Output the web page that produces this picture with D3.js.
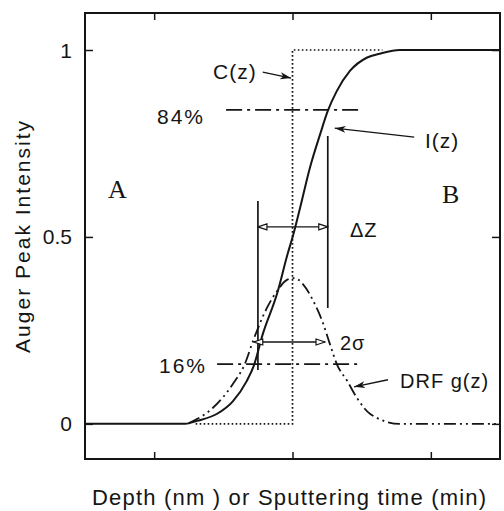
<!DOCTYPE html>
<html>
<head>
<meta charset="utf-8">
<script src="https://cdn.jsdelivr.net/npm/d3@7"></script>
<style>
body { margin: 0; background: #fff; }
text { font-family: Arial, "Liberation Sans", sans-serif; fill: #151515; }
</style>
</head>
<body>
<div class="grp"></div>
<script>
// I(z) measured profile
var iDepth = [0, 1.45, 1.62, 1.91, 2.14, 2.34, 2.44, 2.57, 2.78, 2.93, 3.01, 3.11, 3.25, 3.40, 3.51, 3.64, 3.83, 4.08, 4.26, 4.55, 6];
var iValue = [0, 0, 0.008, 0.027, 0.061, 0.115, 0.155, 0.24, 0.35, 0.455, 0.505, 0.578, 0.684, 0.775, 0.837, 0.89, 0.944, 0.98, 0.99, 1.0, 1.0];

// DRF g(z)
var gDepth = [1.5, 1.85, 2.14, 2.31, 2.43, 2.63, 2.78, 2.92, 3.03, 3.15, 3.30, 3.43, 3.54, 3.64, 3.79, 3.93, 4.12, 4.55, 6];
var gValue = [0.002, 0.043, 0.107, 0.16, 0.222, 0.31, 0.356, 0.385, 0.39, 0.374, 0.329, 0.275, 0.214, 0.16, 0.115, 0.07, 0.027, 0, 0];

// C(z) step
var cDepth = [1.6, 3.0, 3.0, 4.3];
var cValue = [0, 0, 1, 1];

var yTicks = [0, 0.5, 1];
var yTickLabels = ["0", "0.5", "1"];
var xTicks = [1, 3, 5];

var levels = [0.84, 0.16];
var levelLabels = ["84%", "16%"];

var width = 504, height = 511;
var margin = {left: 85, right: 4, top: 13, bottom: 52};

var x = d3.scaleLinear().domain([0, 6]).range([margin.left, width - margin.right]);
var y = d3.scaleLinear().domain([-0.094, 1.099]).range([height - margin.bottom, margin.top]);

var svg = d3.select(".grp").append("svg")
    .attr("width", width)
    .attr("height", height);

var defs = svg.append("defs");
defs.append("marker")
    .attr("id", "head")
    .attr("markerUnits", "userSpaceOnUse")
    .attr("markerWidth", 12).attr("markerHeight", 8)
    .attr("refX", 11).attr("refY", 4)
    .attr("orient", "auto")
    .append("path")
    .attr("d", "M0,0.5 L11,4 L0,7.5 L3,4 Z")
    .attr("fill", "#151515");
defs.append("marker")
    .attr("id", "open")
    .attr("markerUnits", "userSpaceOnUse")
    .attr("markerWidth", 11).attr("markerHeight", 8)
    .attr("refX", 10).attr("refY", 4)
    .attr("orient", "auto-start-reverse")
    .append("path")
    .attr("d", "M1,1 L10,4 L1,7 Z")
    .attr("fill", "#fff")
    .attr("stroke", "#151515")
    .attr("stroke-width", 1.2);

// frame
svg.append("rect")
    .attr("x", x(0)).attr("y", y(1.099))
    .attr("width", x(6) - x(0)).attr("height", y(-0.094) - y(1.099))
    .attr("fill", "none").attr("stroke", "#151515").attr("stroke-width", 2);

var axisL = d3.axisLeft(y).tickValues(yTicks).tickSize(-8).tickFormat("");
var axisR = d3.axisRight(y).tickValues(yTicks).tickSize(-8).tickFormat("");
var axisT = d3.axisTop(x).tickValues(xTicks).tickSize(-7).tickFormat("");
var axisB = d3.axisBottom(x).tickValues(xTicks).tickSize(-7).tickFormat("");
[[axisL, "translate(" + x(0) + ",0)"], [axisR, "translate(" + x(6) + ",0)"],
 [axisT, "translate(0," + y(1.099) + ")"], [axisB, "translate(0," + y(-0.094) + ")"]].forEach(function (a) {
    var g = svg.append("g").attr("transform", a[1]).call(a[0]);
    g.select(".domain").remove();
    g.selectAll("line").attr("stroke", "#151515").attr("stroke-width", 1.5);
});

svg.selectAll(".ylab").data(yTicks).enter().append("text")
    .attr("class", "ylab")
    .attr("x", 72).attr("y", function (d) { return y(d); })
    .attr("dy", "0.36em")
    .attr("text-anchor", "end")
    .attr("font-size", 21)
    .text(function (d, i) { return yTickLabels[i]; });

svg.append("text")
    .attr("transform", "translate(30," + y(0.5) + ") rotate(-90)")
    .attr("text-anchor", "middle")
    .attr("font-size", 21)
    .attr("textLength", 232).attr("lengthAdjust", "spacing")
    .text("Auger Peak Intensity");

svg.append("text")
    .attr("x", 92).attr("y", 505)
    .attr("font-size", 22)
    .attr("textLength", 394).attr("lengthAdjust", "spacing")
    .text("Depth (nm ) or Sputtering time (min)");

var line = d3.line()
    .x(function (d) { return x(d[0]); })
    .y(function (d) { return y(d[1]); });

// C(z) dotted
svg.append("path")
    .datum(d3.zip(cDepth, cValue))
    .attr("d", line.curve(d3.curveLinear))
    .attr("fill", "none").attr("stroke", "#151515")
    .attr("stroke-width", 1.7).attr("stroke-dasharray", "1.6,2.4");

// DRF dash-dot-dot
svg.append("path")
    .datum(d3.zip(gDepth, gValue))
    .attr("d", line.curve(d3.curveMonotoneX))
    .attr("fill", "none").attr("stroke", "#151515")
    .attr("stroke-width", 1.8).attr("stroke-dasharray", "12,4,2,4,2,4");

// I(z) solid
svg.append("path")
    .datum(d3.zip(iDepth, iValue))
    .attr("d", line.curve(d3.curveMonotoneX))
    .attr("fill", "none").attr("stroke", "#151515")
    .attr("stroke-width", 2);

// 84% / 16% levels
var levelSpan = [[2.04, 4.02], [1.91, 3.95]];
svg.selectAll(".lvl").data(levels).enter().append("line")
    .attr("class", "lvl")
    .attr("x1", function (d, i) { return x(levelSpan[i][0]); })
    .attr("x2", function (d, i) { return x(levelSpan[i][1]); })
    .attr("y1", function (d) { return y(d); })
    .attr("y2", function (d) { return y(d); })
    .attr("stroke", "#151515").attr("stroke-width", 1.7)
    .attr("stroke-dasharray", "16,5,3,5");
var levelText = [[157, 124], [159, 373]];
svg.selectAll(".lvlt").data(levelLabels).enter().append("text")
    .attr("x", function (d, i) { return levelText[i][0]; })
    .attr("y", function (d, i) { return levelText[i][1]; })
    .attr("font-size", 21).attr("letter-spacing", 2)
    .text(function (d) { return d; });

// delta Z markers
var dz = [2.5, 3.51];
svg.append("line").attr("x1", x(dz[0])).attr("x2", x(dz[0])).attr("y1", y(0.596)).attr("y2", y(0.144))
    .attr("stroke", "#151515").attr("stroke-width", 1.7);
svg.append("line").attr("x1", x(dz[1])).attr("x2", x(dz[1])).attr("y1", y(0.77)).attr("y2", y(0.31))
    .attr("stroke", "#151515").attr("stroke-width", 1.7);
svg.append("line").attr("x1", x(dz[0])).attr("x2", x(dz[1])).attr("y1", y(0.527)).attr("y2", y(0.527))
    .attr("stroke", "#151515").attr("stroke-width", 1.4)
    .attr("marker-start", "url(#open)").attr("marker-end", "url(#open)");
svg.append("line").attr("x1", x(2.44)).attr("x2", x(3.47)).attr("y1", y(0.219)).attr("y2", y(0.219))
    .attr("stroke", "#151515").attr("stroke-width", 1.4)
    .attr("marker-start", "url(#open)").attr("marker-end", "url(#open)");

// pointer arrows
var pointers = [[2.57, 0.941, 2.98, 0.925], [4.76, 0.767, 3.61, 0.791], [4.38, 0.118, 3.89, 0.099]];
svg.selectAll(".ptr").data(pointers).enter().append("line")
    .attr("x1", function (d) { return x(d[0]); })
    .attr("y1", function (d) { return y(d[1]); })
    .attr("x2", function (d) { return x(d[2]); })
    .attr("y2", function (d) { return y(d[3]); })
    .attr("stroke", "#151515").attr("stroke-width", 1.3)
    .attr("marker-end", "url(#head)");

var notes = [
    {t: "C(z)", x: 213, y: 79, s: 21},
    {t: "I(z)", x: 425, y: 148, s: 21},
    {t: "\u0394Z", x: 350, y: 237, s: 20},
    {t: "2\u03c3", x: 340, y: 350, s: 20},
    {t: "DRF g(z)", x: 400, y: 388, s: 20}
];
svg.selectAll(".note").data(notes).enter().append("text")
    .attr("x", function (d) { return d.x; })
    .attr("y", function (d) { return d.y; })
    .attr("font-size", function (d) { return d.s; })
    .attr("letter-spacing", 1)
    .text(function (d) { return d.t; });

svg.selectAll(".ab").data([["A", 108, 198], ["B", 442, 203]]).enter().append("text")
    .attr("x", function (d) { return d[1]; })
    .attr("y", function (d) { return d[2]; })
    .attr("font-size", 26)
    .style("font-family", "'Liberation Serif', 'DejaVu Serif', serif")
    .text(function (d) { return d[0]; });
</script>
</body>
</html>
